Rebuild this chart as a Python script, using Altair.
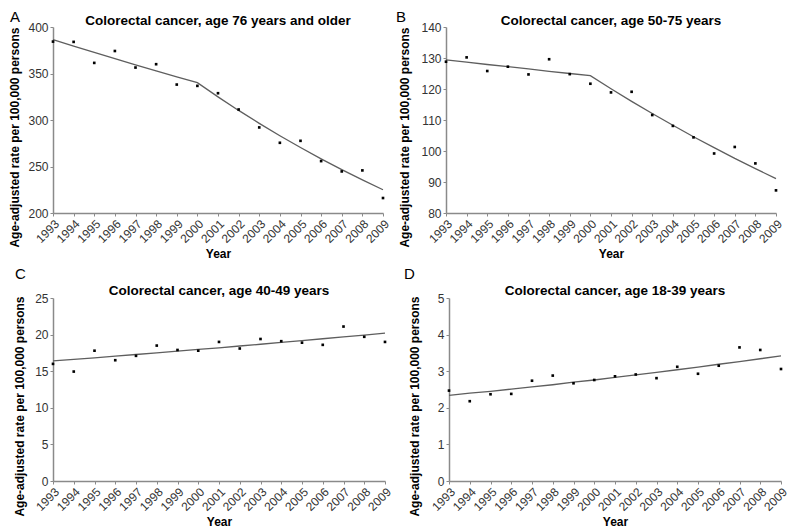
import altair as alt
import pandas as pd

FONT = "Liberation Sans"

years = list(range(1993, 2010))

# Panel A: age 76 years and older
a_obs = [384.3, 384.0, 361.4, 374.2, 356.4, 360.0, 338.1, 336.7, 328.8, 311.3,
         292.0, 275.5, 277.6, 255.8, 244.7, 245.8, 216.1]
a_fit = [386.4, 379.4, 372.6, 365.9, 359.3, 352.8, 346.5, 340.2, 324.9, 310.3,
         296.4, 283.1, 270.4, 258.2, 246.6, 235.6, 225.0]

# Panel B: age 50-75 years
b_obs = [128.8, 130.2, 125.8, 127.2, 124.7, 129.6, 124.8, 121.7, 118.9, 119.1,
         111.6, 108.1, 104.4, 99.2, 101.3, 96.0, 87.3]
b_fit = [129.4, 128.7, 127.9, 127.2, 126.5, 125.7, 125.0, 124.3, 120.1, 116.0,
         112.1, 108.3, 104.6, 101.1, 97.6, 94.3, 91.1]

# Panel C: age 40-49 years
c_obs = [16.0, 14.95, 17.8, 16.5, 17.1, 18.5, 17.9, 17.8, 19.0, 18.1,
         19.4, 19.1, 18.9, 18.6, 21.1, 19.7, 19.0]
c_fit = [16.40, 16.61, 16.83, 17.05, 17.28, 17.50, 17.73, 17.97, 18.20, 18.44,
         18.68, 18.93, 19.18, 19.43, 19.69, 19.94, 20.20]

# Panel D: age 18-39 years
d_obs = [2.47, 2.18, 2.37, 2.38, 2.74, 2.88, 2.67, 2.76, 2.86, 2.91,
         2.81, 3.12, 2.93, 3.15, 3.65, 3.58, 3.06]
d_fit = [2.34, 2.40, 2.45, 2.51, 2.57, 2.63, 2.70, 2.76, 2.83, 2.90,
         2.97, 3.04, 3.11, 3.19, 3.26, 3.34, 3.42]

YTITLE = "Age-adjusted rate per 100,000 persons"


def panel(letter, title, obs, fit, ydom, yvals, w, h, tpad, ty, lx, ly, tyb):
    df = pd.DataFrame({"Year": years, "obs": obs, "fit": fit})
    base = alt.Chart(df)
    xaxis = alt.Axis(values=years, format="d", labelAngle=-45, labelAlign="right",
                     labelBaseline="top", title="Year", titleY=44,
                     titleBaseline="alphabetic", labelOverlap=False,
                     labelFlush=False)
    xscale = alt.Scale(domain=[1993, 2009], nice=False, zero=False)
    yscale = alt.Scale(domain=ydom, nice=False, zero=False)
    yaxis = alt.Axis(values=yvals, title=YTITLE, titlePadding=tpad, titleY=ty,
                     labelOverlap=False)
    line = base.mark_line(color="#5e5e5e", strokeWidth=1.3).encode(
        x=alt.X("Year:Q", scale=xscale, axis=xaxis),
        y=alt.Y("fit:Q", scale=yscale, axis=yaxis),
    )
    pts = base.mark_square(color="black", size=7, opacity=1).encode(
        x=alt.X("Year:Q", scale=xscale, axis=xaxis),
        y=alt.Y("obs:Q", scale=yscale, axis=yaxis),
    )
    labels = pd.DataFrame({"letter": [letter], "title": [title]})
    lab = alt.Chart(labels).mark_text(
        align="left", baseline="alphabetic", fontSize=15, font=FONT, color="black"
    ).encode(x=alt.value(lx), y=alt.value(ly), text="letter:N")
    ttl = alt.Chart(labels).mark_text(
        align="center", baseline="alphabetic", fontSize=13.5, fontWeight="bold",
        font=FONT, color="black"
    ).encode(x=alt.value(w / 2), y=alt.value(tyb), text="title:N")
    return alt.layer(line, pts, lab, ttl).properties(width=w, height=h)


pA = panel("A", "Colorectal cancer, age 76 years and older", a_obs, a_fit,
           [200, 400], [200, 250, 300, 350, 400], 330, 186, 6, 110, -43, -5, -1.6)
pB = panel("B", "Colorectal cancer, age 50-75 years", b_obs, b_fit,
           [80, 140], [80, 90, 100, 110, 120, 130, 140], 330, 186, 9, 110, -50, -5, -1.6)
pC = panel("C", "Colorectal cancer, age 40-49 years", c_obs, c_fit,
           [0, 25], [0, 5, 10, 15, 20, 25], 332, 183, 7.7, 108, -38, -19, -2.6)
pD = panel("D", "Colorectal cancer, age 18-39 years", d_obs, d_fit,
           [0, 5], [0, 1, 2, 3, 4, 5], 332, 183, 16, 108, -45, -19, -2.6)

top = alt.hconcat(pA, pB, spacing=5)
bot = alt.hconcat(pC, pD, spacing=11)

chart = (
    alt.vconcat(top, bot, spacing=8)
    .properties(padding={"left": 0, "top": 2, "right": 0, "bottom": 0})
    .configure_view(stroke=None)
    .configure_axis(
        domainColor="#8a8a8a", domainWidth=1.5, tickColor="#8a8a8a", tickWidth=1,
        tickSize=3, labelPadding=2, grid=False,
        labelFont=FONT, labelFontSize=12, labelColor="#333333",
        titleFont=FONT, titleFontSize=12, titleFontWeight="bold", titleColor="black",
    )
)

chart.save("out.html", embed_options={"renderer": "svg", "actions": False})
